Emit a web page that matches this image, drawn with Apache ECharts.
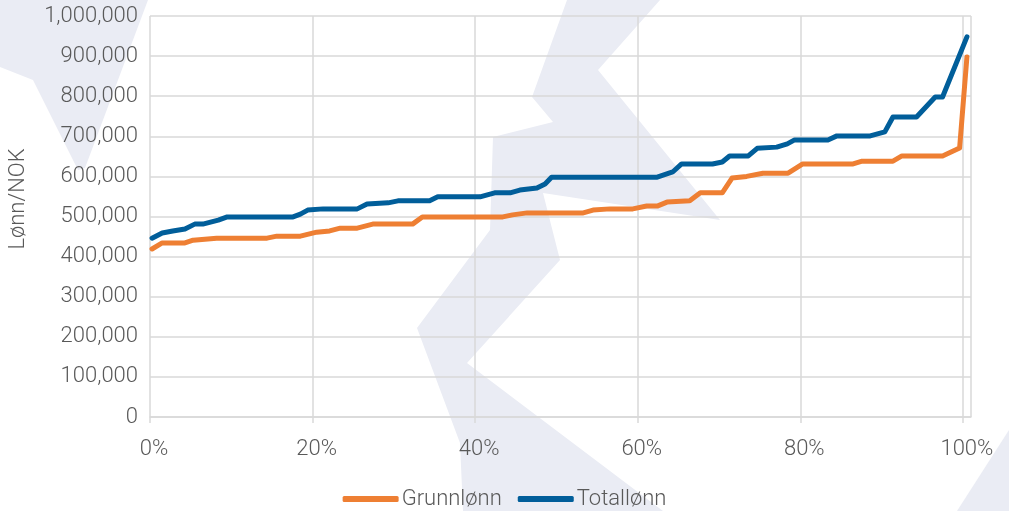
<!DOCTYPE html>
<html lang="no">
<head>
    <meta charset="UTF-8">
    <title>Lønn</title>
    <script src="https://cdn.jsdelivr.net/npm/echarts@6/dist/echarts.min.js"></script>
    <style>
        html, body { margin: 0; padding: 0; background: #fff; }
        #wrap { position: relative; width: 1009px; height: 511px; }
        #wm { position: absolute; left: 0; top: 0; }
        #main { position: absolute; left: 0; top: 0; width: 1009px; height: 511px; }
    </style>
</head>
<body>
<div id="wrap">
    <!-- bakgrunnsmerke -->
    <svg id="wm" width="1009" height="511">
        <g fill="#eaecf4">
            <polygon points="0,0 148,0 85,168 78,170 33,80 0,67"/>
            <polygon points="567,0 532,97 553,122 493,137 490,230 417,328 460,443 463,511 663,511 467,363 560,260 543,193 720,220 598,70 660,0"/>
            <polygon points="1009,430 957,511 1009,511"/>
        </g>
    </svg>
    <div id="main"></div>
</div>
<script>
    // andel ansatte (%) og lønn (NOK)
    var grunnPct = [0.25, 1.5, 4.3, 5.3, 8.2, 14.4, 15.6, 18.5, 20.5, 22.1, 23.4, 25.5, 27.4, 32.3, 33.5, 43.4, 44.6, 46.4, 53.3, 54.5,
        56.6, 59.4, 61.1, 62.4, 63.6, 66.4, 67.7, 70.4, 71.6, 73.4, 75.4, 78.5, 80.3, 86.5, 87.6, 91.4, 92.5, 97.5, 99.6, 100.5];
    var grunnVal = [419000, 434000, 434000, 441000, 446000, 446000, 451000, 451000, 461000, 464000, 471000, 471000, 481000, 481000, 499000, 499000, 504000, 509000, 509000, 516000,
        519000, 519000, 526000, 526000, 536000, 539000, 559000, 559000, 596000, 600000, 608000, 608000, 631000, 631000, 638000, 638000, 651000, 651000, 671000, 898000];

    var totalPct = [0.25, 1.5, 2.8, 4.3, 5.5, 6.5, 8.4, 9.5, 17.6, 18.5, 19.4, 21.3, 25.5, 26.7, 29.3, 30.5, 34.4, 35.4, 40.6, 42.4, 44.3, 45.5, 47.6, 48.6, 49.4,
        62.4, 64.3, 65.4, 69.2, 70.4, 71.3, 73.6, 74.7, 77.1, 78.4, 79.3, 83.4, 84.5, 88.6, 90.4, 91.4, 94.3, 96.6, 97.5, 100.5];
    var totalVal = [446000, 459000, 464000, 469000, 481000, 481000, 491000, 499000, 499000, 506000, 516000, 519000, 519000, 531000, 534000, 539000, 539000, 549000, 549000, 559000, 559000, 566000, 571000, 581000, 598000,
        598000, 611000, 631000, 631000, 636000, 651000, 651000, 670000, 673000, 681000, 691000, 691000, 701000, 701000, 711000, 748000, 748000, 798000, 798000, 948000];

    var seriesNames = ['Grunnlønn', 'Totallønn'];
    var yTitle = 'Lønn/NOK';

    function pairs(xs, ys) {
        var out = [];
        for (var i = 0; i < xs.length; i++) out.push([xs[i], ys[i]]);
        return out;
    }

    var myChart = echarts.init(document.getElementById('main'));
    var font = 'Roboto, "Noto Sans", sans-serif';

    option = {
        backgroundColor: 'transparent',
        animation: false,
        textStyle: { fontFamily: font },
        // aksetittel, rotert
        graphic: [{
            type: 'text',
            x: 18,
            y: 199,
            rotation: Math.PI / 2,
            style: {
                text: yTitle,
                fontSize: 22,
                fontFamily: font,
                fontWeight: 300,
                fill: '#595959',
                align: 'center',
                verticalAlign: 'middle'
            }
        }],
        grid: { left: 150, right: 38, top: 16, bottom: 94 },
        legend: {
            data: seriesNames,
            left: 'center',
            top: 483,
            icon: 'roundRect',
            itemWidth: 56,
            itemHeight: 6,
            itemGap: 16,
            textStyle: { fontSize: 22, color: '#595959', fontFamily: font, fontWeight: 300, padding: [0, 0, 0, -2] }
        },
        xAxis: {
            type: 'value',
            min: 0,
            max: 101,
            interval: 20,
            axisLine: { show: true, lineStyle: { color: '#d9d9d9', width: 1.5 } },
            axisTick: { show: true, length: 6, lineStyle: { color: '#d9d9d9', width: 1.5 } },
            splitLine: { show: true, lineStyle: { color: '#d9d9d9', width: 1.5 } },
            axisLabel: {
                fontSize: 22, color: '#595959', fontFamily: font, fontWeight: 300, margin: 21,
                padding: [0, 0, 0, 8],
                showMaxLabel: false,
                formatter: function (v) { return v % 20 === 0 ? v + '%' : ''; }
            }
        },
        yAxis: {
            type: 'value',
            min: 0,
            max: 1000000,
            interval: 100000,
            axisLine: { show: false },
            axisTick: { show: false },
            splitLine: { show: true, lineStyle: { color: '#d9d9d9', width: 1.5 } },
            axisLabel: {
                fontSize: 22, color: '#595959', fontFamily: font, fontWeight: 300, margin: 12,
                formatter: function (v) { return String(v).replace(/\B(?=(\d{3})+(?!\d))/g, ','); }
            }
        },
        series: [
            {
                name: seriesNames[0],
                type: 'line',
                showSymbol: false,
                symbol: 'none',
                color: '#ee7f33',
                lineStyle: { width: 5, color: '#ee7f33', cap: 'round', join: 'round' },
                data: pairs(grunnPct, grunnVal),
                z: 3
            },
            {
                name: seriesNames[1],
                type: 'line',
                showSymbol: false,
                symbol: 'none',
                color: '#015e9a',
                lineStyle: { width: 5, color: '#015e9a', cap: 'round', join: 'round' },
                data: pairs(totalPct, totalVal),
                z: 4
            }
        ]
    };

    myChart.setOption(option);
</script>
</body>
</html>
